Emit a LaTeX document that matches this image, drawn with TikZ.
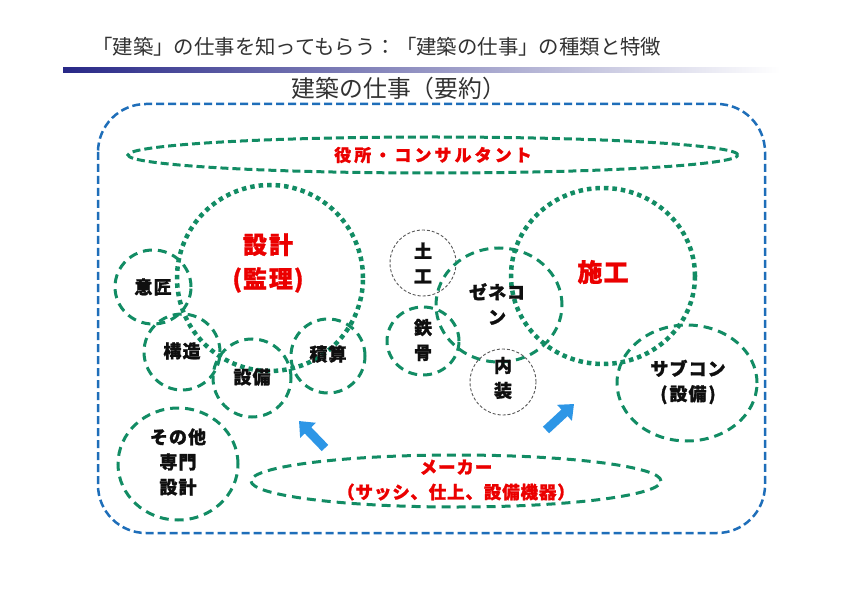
\documentclass[tikz,border=0pt]{standalone}
\usepackage{fontspec}
\setmainfont{Noto Sans CJK JP}[BoldFeatures={FakeBold=1.2}]
\usetikzlibrary{shapes.geometric,arrows.meta}
\definecolor{gr}{RGB}{18,140,100}
\definecolor{bl}{RGB}{30,110,185}
\definecolor{rd}{RGB}{235,0,0}
\definecolor{ar}{RGB}{45,150,230}
\definecolor{navy}{RGB}{40,40,135}
\definecolor{txt}{RGB}{15,15,15}
\definecolor{ttl}{RGB}{50,50,50}
\tikzset{
  gdash/.style={draw=gr, line width=3pt, dash pattern=on 9pt off 6pt},
  gdot/.style={draw=gr, line width=4.5pt, dash pattern=on 4.5pt off 4pt},
  gthin/.style={draw=gray!70!black, line width=0.9pt, dash pattern=on 3pt off 2pt},
  circ/.style={circle, inner sep=0pt, minimum size=#1},
  ell/.style 2 args={ellipse, inner sep=0pt, minimum width=#1, minimum height=#2},
  lbl/.style={font=\fontsize{18}{25}\selectfont\bfseries\addfontfeature{LetterSpace=6}, text=txt, align=center, inner sep=0pt},
  rlbl/.style={font=\fontsize{17}{20}\selectfont\bfseries\addfontfeature{LetterSpace=18}, text=rd, align=center, inner sep=0pt},
  blbl/.style={font=\fontsize{24}{34}\selectfont\bfseries\addfontfeature{LetterSpace=8}, text=rd, align=center, inner sep=0pt},
  mlbl/.style={font=\fontsize{17.5}{25}\selectfont\bfseries\addfontfeature{LetterSpace=5}, text=rd, align=center, inner sep=0pt},
  blockarrow/.style={draw=ar, line width=9pt, -{Triangle[width=21pt,length=13pt]}},
}
\begin{document}
\begin{tikzpicture}[x=1pt,y=-1pt]
\useasboundingbox (0,0) rectangle (850,601);
\fill[white] (0,0) rectangle (850,601);

% title and bar
\node[anchor=west, inner sep=0pt, text=ttl, font=\fontsize{20.4}{23}\selectfont] (title) at (92,47) {「建築」の仕事を知ってもらう：「建築の仕事」の種類と特徴};
\shade[left color=navy, right color=white] (63,68) rectangle (780,73);
\node[inner sep=0pt, text=ttl, font=\fontsize{23.8}{27}\selectfont] (sub) at (399,88) {建築の仕事（要約）};

% outer frame
\draw[draw=bl, line width=2.5pt, dash pattern=on 8pt off 4pt, rounded corners=48pt] (98,104) rectangle (765,533);

% top ellipse
\node[ell={610pt}{36pt}, draw=gr, line width=3pt, dash pattern=on 8pt off 4pt] (yakusho) at (433,155) {};
\node[rlbl] (yakushoT) at (433,155) {役所・コンサルタント};

% design cluster
\node[ell={76pt}{74pt}, gdash] (isho) at (153,287) {};
\node[circ=76pt, gdash] (kozo) at (182,352) {};
\node[circ=78pt, gdash] (setsubi) at (252,378) {};
\node[circ=74pt, gdash] (sekisan) at (328,356) {};
\node[circ=186pt, gdot] (sekkei) at (270,278) {};
\node[ell={120pt}{112pt}, gdash] (sonota) at (178,464) {};

\node[blbl] (sekkeiT) at (268,263) {設計\\(\kern1pt 監理\kern1pt)};
\node[lbl] (ishoT) at (153,287) {意匠};
\node[lbl] (kozoT) at (182,351) {構造};
\node[lbl] (setsubiT) at (252,377) {設備};
\node[lbl] (sekisanT) at (328,354) {積算};
\node[lbl] (sonotaT) at (178,462) {その他\\専門\\設計};

% construction cluster
\node[circ=66pt, gthin] (doko) at (423,263) {};
\node[ell={72pt}{68pt}, gdash] (tekkotsu) at (423,341) {};
\node[ell={126pt}{114pt}, gdash] (zenecon) at (499,305) {};
\node[circ=66pt, gthin] (naiso) at (503,382) {};
\node[ell={184pt}{176pt}, gdot] (seko) at (603,276) {};
\node[ell={140pt}{116pt}, gdash] (subcon) at (687,383) {};

\node[lbl] (dokoT) at (423,263) {土\\工};
\node[lbl] (tekkotsuT) at (423,340) {鉄\\骨};
\node[lbl] (zeneconT) at (497,304) {ゼネコ\\ン};
\node[lbl] (naisoT) at (503,378) {内\\装};
\node[blbl, font=\fontsize{25}{30}\selectfont\bfseries\addfontfeature{LetterSpace=4}] (sekoT) at (603,272) {施工};
\node[lbl] (subconT) at (688,382) {サブコン\\(\kern2pt 設備\kern2pt)};

% maker ellipse
\node[ell={410pt}{52pt}, gdash] (maker) at (456,481) {};
\node[mlbl] (makerT) at (456,480) {メーカー\\（サッシ、仕上、設備機器）};

% arrows
\coordinate (a1t) at (325,448);
\coordinate (a1h) at (299,421);
\coordinate (a2t) at (546,430);
\coordinate (a2h) at (574,404);
\draw[blockarrow] (a1t) -- (a1h);
\draw[blockarrow] (a2t) -- (a2h);
\end{tikzpicture}
\end{document}
